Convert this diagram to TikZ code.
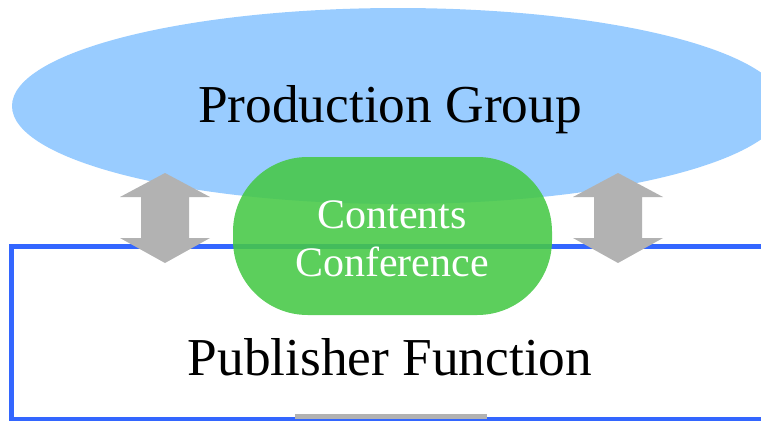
\documentclass[tikz,border=0pt]{standalone}
\usepackage{fontspec}
\setmainfont{Liberation Serif}
\begin{document}
\begin{tikzpicture}[x=0.75pt,y=-0.75pt,
  grouplabel/.style={font=\fontsize{40}{44}\selectfont, text=black},
  blockarrow/.style={fill=black!30, draw=none},
  conf/.style={fill=green!60!black!70!white, fill opacity=0.85, draw=none, rounded corners=75*0.75pt}]
\useasboundingbox (0,0) rectangle (761,421);
\clip (0,0) rectangle (761,421);
% production group ellipse
\fill[color={rgb,255:red,153;green,204;blue,255}] (398,106) ellipse [x radius=386, y radius=98];
\node[grouplabel] (prod) at (390,110) {Production Group};
% publisher function box
\draw[line width=3.75pt, color={rgb,255:red,51;green,102;blue,255}] (780,246) -- (11,246) -- (11,419) -- (780,419);
\fill[black!30] (295,414) rectangle (487,418.5);
% double arrows
\foreach \cx/\nm in {165/la, 618/ra}{
  \fill[black!30] (\cx,173) -- (\cx+45,197) -- (\cx+24,197) -- (\cx+24,238) -- (\cx+45,238) -- (\cx,263)
     -- (\cx-45,238) -- (\cx-24,238) -- (\cx-24,197) -- (\cx-45,197) -- cycle;
}
% contents conference
\fill[color={rgb,255:red,70;green,200;blue,70}, fill opacity=0.88, rounded corners=56pt] (233,157) rectangle (552,315);
\node[font=\fontsize{31.5}{37}\selectfont, text=white, align=center] (conf) at (392,239) {Contents\\[-1pt]Conference};
\node[grouplabel] (pub) at (390,357) {Publisher Function};
\end{tikzpicture}
\end{document}
